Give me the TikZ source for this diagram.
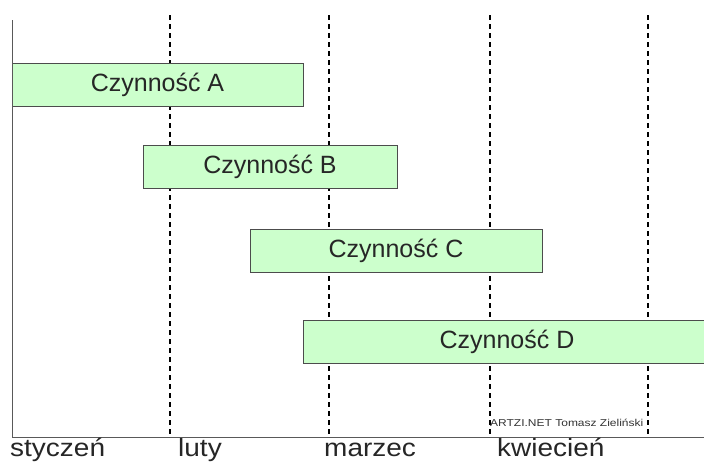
\documentclass[tikz,border=0pt]{standalone}
\usepackage{fontspec}
\setmainfont{Liberation Sans}
\begin{document}
\begin{tikzpicture}[x=1pt,y=-1pt,
  tasktext/.style={font=\fontsize{25}{28}\selectfont,text=black!85},
  task/.style={draw=black!70,fill=green!20,line width=0.9pt,rectangle,inner sep=0pt,
    minimum height=43pt,tasktext},
  month/.style={font=\fontsize{25}{28}\selectfont,anchor=base west,inner sep=0pt,text=black!85},
  grid/.style={line width=1.6pt,dash pattern=on 5pt off 4pt},
  axis/.style={line width=1pt,draw=black!65}]
\useasboundingbox (0,0) rectangle (704,461);
% dashed grid lines
\foreach \x/\n in {170/g1,329/g2,490/g3,648/g4}{
  \coordinate (\n t) at (\x,15);
  \coordinate (\n b) at (\x,437);
  \draw[grid] (\n t) -- (\n b);
}
% task boxes
\node[task,minimum width=291pt] (a) at (157.5,84.5) {Czynność A};
\node[task,minimum width=254pt] (b) at (270,166.5) {Czynność B};
\node[task,minimum width=292pt] (c) at (396,250.5) {Czynność C};
\node[task,minimum width=407pt] (d) at (506.5,341.5) {};
\node[tasktext] (dl) at (507,341.5) {Czynność D};
% axes
\coordinate (o) at (12,437);
\coordinate (ytop) at (12,20);
\coordinate (xend) at (704,437);
\draw[axis] (ytop) -- (o) -- (xend);
% month labels
\node[month] (m1) at (10,456) {\scalebox{1.12}[1]{styczeń}};
\node[month] (m2) at (178,456) {\scalebox{1.12}[1]{luty}};
\node[month] (m3) at (324,456) {\scalebox{1.12}[1]{marzec}};
\node[month] (m4) at (497,456) {\scalebox{1.12}[1]{kwiecień}};
% watermark
\node[font=\fontsize{10}{12}\selectfont,anchor=base west,inner sep=0pt,text=black!80] (w) at (490,426) {\scalebox{1.2}[1]{ARTZI.NET Tomasz Zieliński}};
\end{tikzpicture}
\end{document}
